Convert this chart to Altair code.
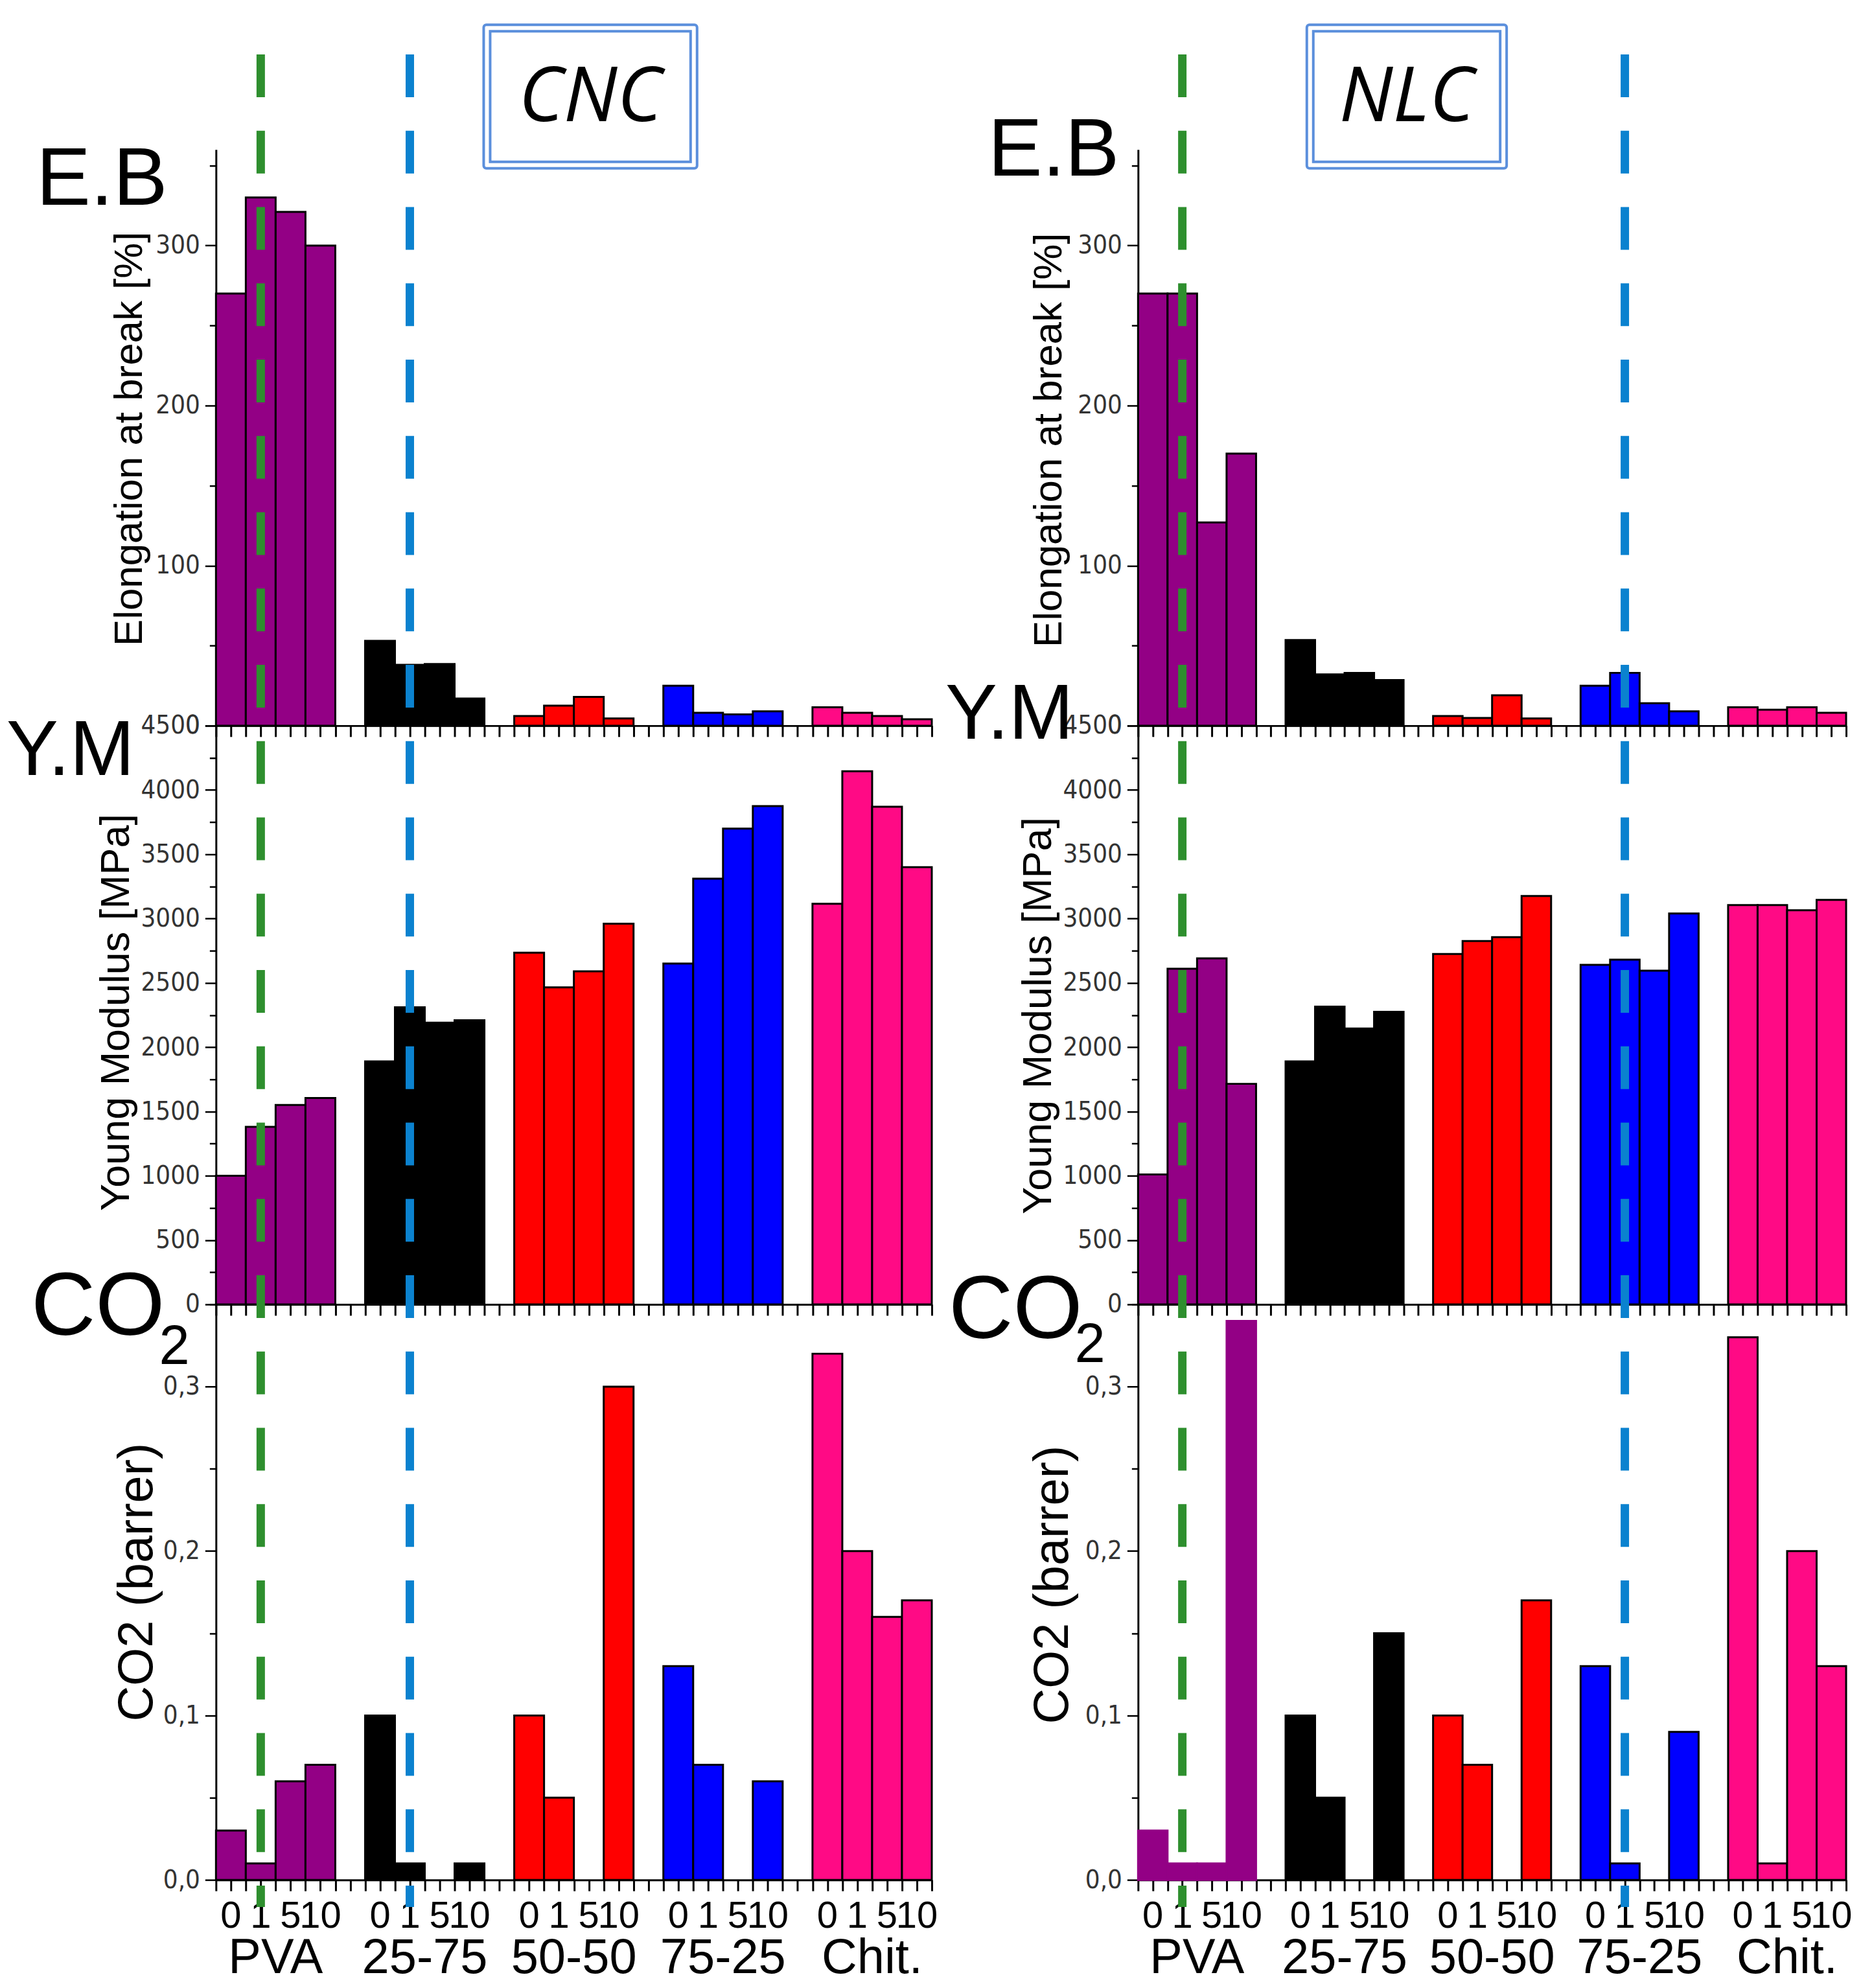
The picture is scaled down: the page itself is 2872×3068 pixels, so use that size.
import altair as alt
import pandas as pd

# ---------------- data ----------------
groups = ["PVA", "25-75", "50-50", "75-25", "Chit."]
concs = ["0", "1", "5", "10"]
group_colors = ["#930085", "#000000", "#FF0000", "#0000FF", "#FF0A85"]

cnc_eb = [270, 330, 321, 300, 53, 38, 38.5, 17, 6, 12.5, 18, 4.5,
          25, 8, 7, 9, 11.5, 8, 6, 4]
nlc_eb = [270, 270, 127, 170, 53.5, 32, 33, 28.5, 6, 4.8, 19, 4.5,
          25, 33, 14, 9, 11.5, 10, 11.5, 8]

cnc_ym = [1000, 1380, 1550, 1605, 1890, 2310, 2190, 2210, 2735, 2465, 2590, 2960,
          2650, 3310, 3700, 3875, 3115, 4145, 3870, 3400]
nlc_ym = [1010, 2610, 2690, 1715, 1890, 2315, 2145, 2275, 2725, 2825, 2855, 3175,
          2640, 2680, 2595, 3040, 3105, 3105, 3065, 3145]

cnc_co2 = [0.03, 0.01, 0.06, 0.07, 0.10, 0.01, None, 0.01, 0.10, 0.05, None, 0.30,
           0.13, 0.07, None, 0.06, 0.32, 0.20, 0.16, 0.17]
nlc_co2 = [0.03, 0.01, 0.01, 0.34, 0.10, 0.05, None, 0.15, 0.10, 0.07, None, 0.17,
           0.13, 0.01, None, 0.09, 0.33, 0.01, 0.20, 0.13]

cnc_markers = [("PVA", "1"), ("25-75", "1")]
nlc_markers = [("PVA", "1"), ("75-25", "1")]
marker_colors = ["#2E8F2E", "#0B82CF"]

# ---------------- layout ----------------
W_CNC, W_NLC = 1107, 1095
H_EB, H_YM, H_CO2 = 891, 895, 890
SLOTS = len(groups) * (len(concs) + 1) - 1
NARROW = "Liberation Sans Narrow, DejaVu Sans Condensed, sans-serif"
SANS = "Liberation Sans, Arial, sans-serif"
BOXBLUE = "#5B8FDC"

XS = alt.Scale(domain=[0, SLOTS], nice=False, zero=False)
XAXIS = alt.Axis(values=[i * 0.5 for i in range(2 * SLOTS + 1)], labels=False, title=None,
                 grid=False, tickSize=17, tickWidth=3, tickColor="black",
                 domainColor="black", domainWidth=3)


def slot(gi, ci):
    return gi * (len(concs) + 1) + ci


def frame(values):
    rows = []
    for gi, g in enumerate(groups):
        for ci, c in enumerate(concs):
            s = slot(gi, ci)
            rows.append(dict(group=g, conc=c, x0=s, x1=s + 1, xc=s + 0.5,
                             value=values[gi * len(concs) + ci]))
    return pd.DataFrame(rows)


def yaxis(title, values, major_test, label_expr, tx, ty, tsize):
    return alt.Axis(
        values=values, grid=False, title=title,
        labelExpr=f"{major_test} ? {label_expr} : ''",
        tickSize={"condition": {"test": major_test, "value": 17}, "value": 10},
        tickWidth=2.5, tickColor="black", domainColor="black", domainWidth=3,
        labelFont=NARROW, labelFontSize=40, labelColor="#333333", labelPadding=8,
        labelOverlap=False, labelFlush=False, labelBound=False,
        titleFont=SANS, titleFontSize=tsize, titleFontWeight="normal", titleColor="black",
        titleX=tx, titleY=ty, titleBaseline="middle", titleAlign="center")


EB_VALUES = [i * 50 for i in range(8)]
YM_VALUES = [i * 250 for i in range(19)]
CO2_VALUES = [round(i * 0.05, 2) for i in range(8)]


def bar_layer(values, ydomain, axis, purple_outline=False):
    df = frame(values)
    stroke = alt.value("black")
    if purple_outline:
        stroke = alt.condition("datum.group == 'PVA'", alt.value(group_colors[0]), alt.value("black"))
    return alt.Chart(df).mark_bar(strokeWidth=3).encode(
        x=alt.X("x0:Q", scale=XS, axis=XAXIS),
        x2="x1:Q",
        y=alt.Y("value:Q", scale=alt.Scale(domain=ydomain, nice=False, zero=True), axis=axis),
        y2=alt.datum(0),
        color=alt.Color("group:N", scale=alt.Scale(domain=groups, range=group_colors), legend=None),
        stroke=stroke,
    )


def label(text, x, y, size, italic=False, font=SANS, align="left"):
    kw = dict(fontSize=size, font=font, align=align, baseline="alphabetic", color="black")
    if italic:
        kw["fontStyle"] = "italic"
    return alt.Chart(pd.DataFrame({"t": [text]})).mark_text(**kw).encode(
        text="t:N", x=alt.value(x), y=alt.value(y))


def box(x1, x2, y1, y2, name):
    d = pd.DataFrame({"t": [name]})
    outer = alt.Chart(d).mark_rect(fill="white", stroke=BOXBLUE, strokeWidth=4, cornerRadius=4).encode(
        x=alt.value(x1), x2=alt.value(x2), y=alt.value(y1), y2=alt.value(y2))
    inner = alt.Chart(d).mark_rect(fillOpacity=0, stroke=BOXBLUE, strokeWidth=4).encode(
        x=alt.value(x1 + 10), x2=alt.value(x2 - 10), y=alt.value(y1 + 10), y2=alt.value(y2 - 10))
    txt = label(name, (x1 + x2) / 2, y2 - 73, 118, italic=True,
                font="Open Sans, Liberation Sans, sans-serif", align="center")
    return [outer, inner, txt]


def bottom_texts():
    df = frame([0] * (len(groups) * len(concs)))
    conc_t = alt.Chart(df).mark_text(fontSize=58, font=SANS, baseline="alphabetic", color="black").encode(
        x=alt.X("xc:Q", scale=XS, axis=XAXIS), y=alt.value(H_CO2 + 74), text="conc:N")
    gdf = pd.DataFrame({"group": groups,
                        "gx": [slot(gi, 0) + len(concs) / 2 for gi in range(len(groups))]})
    grp_t = alt.Chart(gdf).mark_text(fontSize=76, font=SANS, baseline="alphabetic", color="black").encode(
        x=alt.X("gx:Q", scale=XS, axis=XAXIS), y=alt.value(H_CO2 + 144), text="group:N")
    return [conc_t, grp_t]


def marker_rules(markers):
    rows = []
    for (g, c), col in zip(markers, marker_colors):
        rows.append(dict(pos=slot(groups.index(g), concs.index(c)) + 0.5, col=col))
    return alt.Chart(pd.DataFrame(rows)).mark_rule(strokeWidth=13, strokeDash=[66, 52]).encode(
        x=alt.X("pos:Q", scale=XS, axis=XAXIS),
        y=alt.value(-(H_EB + H_YM) - 147), y2=alt.value(H_CO2 + 42),
        color=alt.Color("col:N", scale=None))


# ---------------- CNC column ----------------
cnc_eb_ch = alt.layer(
    bar_layer(cnc_eb, [0, 360], yaxis("Elongation at break [%]", EB_VALUES, "datum.value % 100 == 0",
                                        "format(datum.value, 'd')", -134, 447, 62)),
    label("E.B", -278, 85, 126),
    *box(414, 744, -193, 29, "CNC"),
).properties(width=W_CNC, height=H_EB)

cnc_ym_ch = alt.layer(
    bar_layer(cnc_ym, [0, 4500], yaxis("Young Modulus [MPa]", YM_VALUES, "datum.value % 500 == 0",
                                         "format(datum.value, 'd')", -154, 443, 63)),
    label("Y.M", -324, 76, 120),
).properties(width=W_CNC, height=H_YM)

co2_test = "abs(round(datum.value * 20)) % 2 == 0"
co2_fmt = "replace(format(datum.value, '.1f'), '.', ',')"

cnc_co2_ch = alt.layer(
    bar_layer(cnc_co2, [0, 0.35], yaxis("CO2 (barrer)", CO2_VALUES, co2_test, co2_fmt, -122, 429, 76)),
    label("CO", -286, 47, 138),
    label("2", -88, 92, 85),
    *bottom_texts(),
    marker_rules(cnc_markers),
).properties(width=W_CNC, height=H_CO2)

# ---------------- NLC column ----------------
nlc_eb_ch = alt.layer(
    bar_layer(nlc_eb, [0, 360], yaxis("Elongation at break [%]", EB_VALUES, "datum.value % 100 == 0",
                                        "format(datum.value, 'd')", -138, 449, 62)),
    label("E.B", -232, 40, 126),
    *box(261, 570, -193, 29, "NLC"),
).properties(width=W_NLC, height=H_EB)

nlc_ym_ch = alt.layer(
    bar_layer(nlc_ym, [0, 4500], yaxis("Young Modulus [MPa]", YM_VALUES, "datum.value % 500 == 0",
                                         "format(datum.value, 'd')", -154, 448, 63)),
    label("Y.M", -298, 20, 120),
).properties(width=W_NLC, height=H_YM)

nlc_co2_ch = alt.layer(
    bar_layer(nlc_co2, [0, 0.35], yaxis("CO2 (barrer)", CO2_VALUES, co2_test, co2_fmt, -132, 433, 76),
              purple_outline=True),
    label("CO", -293, 52, 138),
    label("2", -98, 89, 85),
    *bottom_texts(),
    marker_rules(nlc_markers),
).properties(width=W_NLC, height=H_CO2)

chart = alt.concat(
    cnc_eb_ch, nlc_eb_ch, cnc_ym_ch, nlc_ym_ch, cnc_co2_ch, nlc_co2_ch,
    columns=2, spacing={"row": 0, "column": 319}, bounds="flush",
).properties(
    padding={"left": 2, "top": 25, "right": 5, "bottom": 5},
).configure_view(stroke=None)

chart.save("out.html", embed_options={"renderer": "svg", "actions": False})
